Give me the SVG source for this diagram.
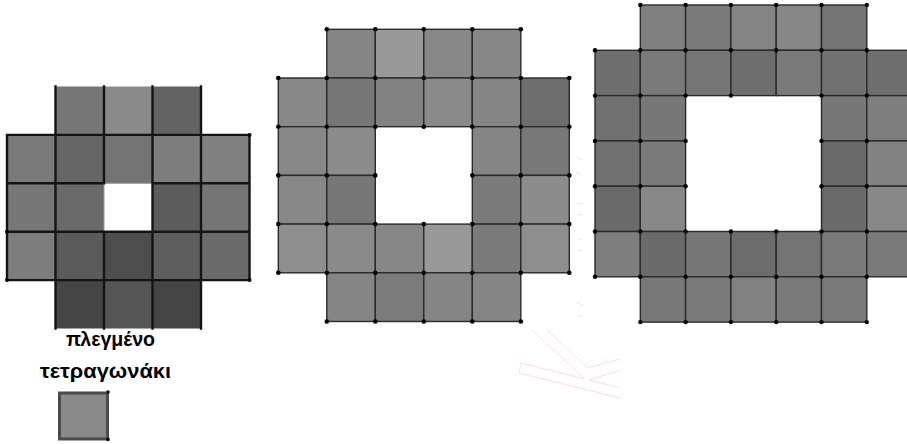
<svg xmlns="http://www.w3.org/2000/svg" width="907" height="444" viewBox="0 0 907 444">
<style>
.c1{stroke:none}
.ln{stroke:#141414;stroke-width:2.4;fill:none;stroke-linecap:square}
.lg{stroke:#9a9a9a;stroke-width:1;fill:none}
.c2 rect{stroke:#2a2a2a;stroke-width:1.4}
.d{fill:#000}
.wm{stroke:#fcdde3;stroke-width:1;fill:none}
.lbl{font-family:"Liberation Sans","Noto Sans",sans-serif;font-weight:bold;font-size:19.5px;fill:#000}
</style>
<rect width="907" height="444" fill="#fff"/>

<!-- watermark -->
<g id="watermark" class="wm">
<path d="M576 156l6 4M576 172l6 3M577 203l6 1M577 214l6 1M577 239l6 0M577 251l6 -1M577 303l6 2M577 315l6 2"/>
<path d="M531 329L584 378M546 329L588 368L620 359"/>
<path d="M521 363L519 373L620 398M521 363L585 379M589 380L620 370M589 380L620 388"/>
</g>

<!-- Figure 1 -->
<g id="fig1">
<g class="c1">
<rect x="55.5" y="86.5" width="48.5" height="48.4" fill="#777"/>
<rect x="104" y="86.5" width="48.5" height="48.4" fill="#8a8a8a"/>
<rect x="152.5" y="86.5" width="48.5" height="48.4" fill="#636363"/>
<rect x="7" y="134.9" width="48.5" height="48.4" fill="#7a7a7a"/>
<rect x="55.5" y="134.9" width="48.5" height="48.4" fill="#666"/>
<rect x="104" y="134.9" width="48.5" height="48.4" fill="#747474"/>
<rect x="152.5" y="134.9" width="48.5" height="48.4" fill="#7d7d7d"/>
<rect x="201" y="134.9" width="48.5" height="48.4" fill="#808080"/>
<rect x="7" y="183.3" width="48.5" height="48.4" fill="#777"/>
<rect x="55.5" y="183.3" width="48.5" height="48.4" fill="#6a6a6a"/>
<rect x="152.5" y="183.3" width="48.5" height="48.4" fill="#5c5c5c"/>
<rect x="201" y="183.3" width="48.5" height="48.4" fill="#757575"/>
<rect x="7" y="231.7" width="48.5" height="48.4" fill="#7d7d7d"/>
<rect x="55.5" y="231.7" width="48.5" height="48.4" fill="#5a5a5a"/>
<rect x="104" y="231.7" width="48.5" height="48.4" fill="#4d4d4d"/>
<rect x="152.5" y="231.7" width="48.5" height="48.4" fill="#5e5e5e"/>
<rect x="201" y="231.7" width="48.5" height="48.4" fill="#6a6a6a"/>
<rect x="55.5" y="280.1" width="48.5" height="48.4" fill="#454545"/>
<rect x="104" y="280.1" width="48.5" height="48.4" fill="#555"/>
<rect x="152.5" y="280.1" width="48.5" height="48.4" fill="#454545"/>
</g>
<path class="lg" d="M104 183.3H152.5M104 183.3V231.7"/>
<path class="ln" d="M7 134.9H249.5M7 183.3H104M152.5 183.3H249.5M7 231.7H249.5M7 280.1H249.5
M7 134.9V280.1M249.5 134.9V280.1M55.5 86.5V328.5M104 86.5V183.3M104 231.7V328.5M152.5 86.5V328.5M201 86.5V328.5"/>
<g class="d">
<circle cx="7" cy="231.7" r="2"/><circle cx="7" cy="280.1" r="2"/>
<circle cx="249.5" cy="134.9" r="2"/><circle cx="249.5" cy="280.1" r="2"/>
</g>
</g>

<!-- Figure 2 -->
<g id="fig2" class="c2">
<rect x="326.8" y="29.3" width="48.5" height="48.7" fill="#858585"/>
<rect x="375.3" y="29.3" width="48.5" height="48.7" fill="#999"/>
<rect x="423.8" y="29.3" width="48.5" height="48.7" fill="#888"/>
<rect x="472.3" y="29.3" width="48.5" height="48.7" fill="#878787"/>
<rect x="278.3" y="78" width="48.5" height="48.7" fill="#888"/>
<rect x="326.8" y="78" width="48.5" height="48.7" fill="#777"/>
<rect x="375.3" y="78" width="48.5" height="48.7" fill="#828282"/>
<rect x="423.8" y="78" width="48.5" height="48.7" fill="#8a8a8a"/>
<rect x="472.3" y="78" width="48.5" height="48.7" fill="#858585"/>
<rect x="520.8" y="78" width="48.5" height="48.7" fill="#6e6e6e"/>
<rect x="278.3" y="126.7" width="48.5" height="48.7" fill="#888"/>
<rect x="326.8" y="126.7" width="48.5" height="48.7" fill="#8c8c8c"/>
<rect x="472.3" y="126.7" width="48.5" height="48.7" fill="#858585"/>
<rect x="520.8" y="126.7" width="48.5" height="48.7" fill="#787878"/>
<rect x="278.3" y="175.4" width="48.5" height="48.7" fill="#888"/>
<rect x="326.8" y="175.4" width="48.5" height="48.7" fill="#777"/>
<rect x="472.3" y="175.4" width="48.5" height="48.7" fill="#7a7a7a"/>
<rect x="520.8" y="175.4" width="48.5" height="48.7" fill="#8c8c8c"/>
<rect x="278.3" y="224.1" width="48.5" height="48.7" fill="#8e8e8e"/>
<rect x="326.8" y="224.1" width="48.5" height="48.7" fill="#8a8a8a"/>
<rect x="375.3" y="224.1" width="48.5" height="48.7" fill="#868686"/>
<rect x="423.8" y="224.1" width="48.5" height="48.7" fill="#999"/>
<rect x="472.3" y="224.1" width="48.5" height="48.7" fill="#7a7a7a"/>
<rect x="520.8" y="224.1" width="48.5" height="48.7" fill="#8e8e8e"/>
<rect x="326.8" y="272.8" width="48.5" height="48.7" fill="#858585"/>
<rect x="375.3" y="272.8" width="48.5" height="48.7" fill="#7b7b7b"/>
<rect x="423.8" y="272.8" width="48.5" height="48.7" fill="#858585"/>
<rect x="472.3" y="272.8" width="48.5" height="48.7" fill="#858585"/>
<g class="d">
<circle cx="326.8" cy="29.3" r="2.3"/><circle cx="375.3" cy="29.3" r="2.3"/><circle cx="423.8" cy="29.3" r="2.3"/><circle cx="472.3" cy="29.3" r="2.3"/><circle cx="520.8" cy="29.3" r="2.3"/>
<circle cx="278.3" cy="78" r="2.3"/><circle cx="326.8" cy="78" r="2.3"/><circle cx="375.3" cy="78" r="2.3"/><circle cx="423.8" cy="78" r="2.3"/><circle cx="472.3" cy="78" r="2.3"/><circle cx="520.8" cy="78" r="2.3"/><circle cx="569.3" cy="78" r="2.3"/>
<circle cx="278.3" cy="126.7" r="2.3"/><circle cx="326.8" cy="126.7" r="2.3"/><circle cx="375.3" cy="126.7" r="2.3"/><circle cx="423.8" cy="126.7" r="2.3"/><circle cx="472.3" cy="126.7" r="2.3"/><circle cx="520.8" cy="126.7" r="2.3"/><circle cx="569.3" cy="126.7" r="2.3"/>
<circle cx="278.3" cy="175.4" r="2.3"/><circle cx="326.8" cy="175.4" r="2.3"/><circle cx="375.3" cy="175.4" r="2.3"/><circle cx="472.3" cy="175.4" r="2.3"/><circle cx="520.8" cy="175.4" r="2.3"/><circle cx="569.3" cy="175.4" r="2.3"/>
<circle cx="278.3" cy="224.1" r="2.3"/><circle cx="326.8" cy="224.1" r="2.3"/><circle cx="375.3" cy="224.1" r="2.3"/><circle cx="423.8" cy="224.1" r="2.3"/><circle cx="472.3" cy="224.1" r="2.3"/><circle cx="520.8" cy="224.1" r="2.3"/><circle cx="569.3" cy="224.1" r="2.3"/>
<circle cx="278.3" cy="272.8" r="2.3"/><circle cx="326.8" cy="272.8" r="2.3"/><circle cx="375.3" cy="272.8" r="2.3"/><circle cx="423.8" cy="272.8" r="2.3"/><circle cx="472.3" cy="272.8" r="2.3"/><circle cx="520.8" cy="272.8" r="2.3"/><circle cx="569.3" cy="272.8" r="2.3"/>
<circle cx="326.8" cy="321.5" r="2.3"/><circle cx="375.3" cy="321.5" r="2.3"/><circle cx="423.8" cy="321.5" r="2.3"/><circle cx="472.3" cy="321.5" r="2.3"/><circle cx="520.8" cy="321.5" r="2.3"/>
</g>
</g>

<!-- Figure 3 -->
<g id="fig3" class="c2">
<rect x="640.3" y="5" width="45.3" height="45.3" fill="#808080"/>
<rect x="685.6" y="5" width="45.3" height="45.3" fill="#7a7a7a"/>
<rect x="730.9" y="5" width="45.3" height="45.3" fill="#858585"/>
<rect x="776.2" y="5" width="45.3" height="45.3" fill="#878787"/>
<rect x="821.5" y="5" width="45.3" height="45.3" fill="#747474"/>
<rect x="595" y="50.3" width="45.3" height="45.3" fill="#6e6e6e"/>
<rect x="640.3" y="50.3" width="45.3" height="45.3" fill="#7a7a7a"/>
<rect x="685.6" y="50.3" width="45.3" height="45.3" fill="#767676"/>
<rect x="730.9" y="50.3" width="45.3" height="45.3" fill="#6e6e6e"/>
<rect x="776.2" y="50.3" width="45.3" height="45.3" fill="#7a7a7a"/>
<rect x="821.5" y="50.3" width="45.3" height="45.3" fill="#717171"/>
<rect x="866.8" y="50.3" width="45.3" height="45.3" fill="#6e6e6e"/>
<rect x="595" y="95.6" width="45.3" height="45.3" fill="#717171"/>
<rect x="640.3" y="95.6" width="45.3" height="45.3" fill="#777"/>
<rect x="821.5" y="95.6" width="45.3" height="45.3" fill="#777"/>
<rect x="866.8" y="95.6" width="45.3" height="45.3" fill="#7e7e7e"/>
<rect x="595" y="140.9" width="45.3" height="45.3" fill="#717171"/>
<rect x="640.3" y="140.9" width="45.3" height="45.3" fill="#7a7a7a"/>
<rect x="821.5" y="140.9" width="45.3" height="45.3" fill="#6a6a6a"/>
<rect x="866.8" y="140.9" width="45.3" height="45.3" fill="#828282"/>
<rect x="595" y="186.2" width="45.3" height="45.3" fill="#6a6a6a"/>
<rect x="640.3" y="186.2" width="45.3" height="45.3" fill="#888"/>
<rect x="821.5" y="186.2" width="45.3" height="45.3" fill="#6a6a6a"/>
<rect x="866.8" y="186.2" width="45.3" height="45.3" fill="#888"/>
<rect x="595" y="231.5" width="45.3" height="45.3" fill="#7e7e7e"/>
<rect x="640.3" y="231.5" width="45.3" height="45.3" fill="#6a6a6a"/>
<rect x="685.6" y="231.5" width="45.3" height="45.3" fill="#777"/>
<rect x="730.9" y="231.5" width="45.3" height="45.3" fill="#6c6c6c"/>
<rect x="776.2" y="231.5" width="45.3" height="45.3" fill="#747474"/>
<rect x="821.5" y="231.5" width="45.3" height="45.3" fill="#7a7a7a"/>
<rect x="866.8" y="231.5" width="45.3" height="45.3" fill="#7a7a7a"/>
<rect x="640.3" y="276.8" width="45.3" height="45.3" fill="#787878"/>
<rect x="685.6" y="276.8" width="45.3" height="45.3" fill="#7a7a7a"/>
<rect x="730.9" y="276.8" width="45.3" height="45.3" fill="#828282"/>
<rect x="776.2" y="276.8" width="45.3" height="45.3" fill="#7a7a7a"/>
<rect x="821.5" y="276.8" width="45.3" height="45.3" fill="#7a7a7a"/>
<g class="d">
<circle cx="640.3" cy="5" r="2.2"/><circle cx="685.6" cy="5" r="2.2"/><circle cx="730.9" cy="5" r="2.2"/><circle cx="776.2" cy="5" r="2.2"/><circle cx="821.5" cy="5" r="2.2"/><circle cx="866.8" cy="5" r="2.2"/>
<circle cx="595" cy="50.3" r="2.2"/><circle cx="640.3" cy="50.3" r="2.2"/><circle cx="685.6" cy="50.3" r="2.2"/><circle cx="730.9" cy="50.3" r="2.2"/><circle cx="776.2" cy="50.3" r="2.2"/><circle cx="821.5" cy="50.3" r="2.2"/><circle cx="866.8" cy="50.3" r="2.2"/>
<circle cx="595" cy="95.6" r="2.2"/><circle cx="640.3" cy="95.6" r="2.2"/><circle cx="685.6" cy="95.6" r="2.2"/><circle cx="730.9" cy="95.6" r="2.2"/><circle cx="821.5" cy="95.6" r="2.2"/><circle cx="866.8" cy="95.6" r="2.2"/>
<circle cx="595" cy="140.9" r="2.2"/><circle cx="640.3" cy="140.9" r="2.2"/><circle cx="685.6" cy="140.9" r="2.2"/><circle cx="821.5" cy="140.9" r="2.2"/><circle cx="866.8" cy="140.9" r="2.2"/>
<circle cx="595" cy="186.2" r="2.2"/><circle cx="640.3" cy="186.2" r="2.2"/><circle cx="685.6" cy="186.2" r="2.2"/><circle cx="821.5" cy="186.2" r="2.2"/><circle cx="866.8" cy="186.2" r="2.2"/>
<circle cx="595" cy="231.5" r="2.2"/><circle cx="640.3" cy="231.5" r="2.2"/><circle cx="685.6" cy="231.5" r="2.2"/><circle cx="730.9" cy="231.5" r="2.2"/><circle cx="776.2" cy="231.5" r="2.2"/><circle cx="821.5" cy="231.5" r="2.2"/><circle cx="866.8" cy="231.5" r="2.2"/>
<circle cx="595" cy="276.8" r="2.2"/><circle cx="640.3" cy="276.8" r="2.2"/><circle cx="685.6" cy="276.8" r="2.2"/><circle cx="730.9" cy="276.8" r="2.2"/><circle cx="776.2" cy="276.8" r="2.2"/><circle cx="821.5" cy="276.8" r="2.2"/><circle cx="866.8" cy="276.8" r="2.2"/>
<circle cx="640.3" cy="322.1" r="2.2"/><circle cx="685.6" cy="322.1" r="2.2"/><circle cx="730.9" cy="322.1" r="2.2"/><circle cx="776.2" cy="322.1" r="2.2"/><circle cx="821.5" cy="322.1" r="2.2"/><circle cx="866.8" cy="322.1" r="2.2"/>
</g>
</g>

<!-- Legend -->
<g id="legend">
<text class="lbl" x="66" y="346" textLength="89" lengthAdjust="spacingAndGlyphs">πλεγμένο</text>
<text class="lbl" x="40" y="378" textLength="131" lengthAdjust="spacingAndGlyphs">τετραγωνάκι</text>
<rect x="59.5" y="393" width="48" height="46" fill="#898989" stroke="#4a4a4a" stroke-width="3"/>
<circle class="d" cx="108" cy="392" r="1.8"/>
<circle class="d" cx="108" cy="439.5" r="1.8"/>
</g>
</svg>
